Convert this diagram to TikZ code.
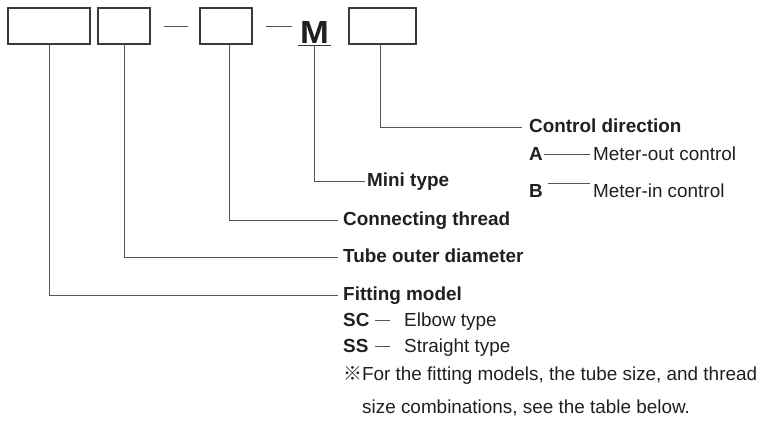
\documentclass[tikz,border=0pt]{standalone}
\usepackage{fontspec}
\setmainfont{Liberation Sans}
\newfontfamily\cjk{Noto Sans CJK JP}
\definecolor{txt}{HTML}{231F20}
\definecolor{boxc}{HTML}{3A3A3A}
\definecolor{linec}{HTML}{555555}
\begin{document}
\begin{tikzpicture}[x=1pt,y=-1pt,
  fieldbox/.style={draw=boxc,line width=1.1pt,minimum height=36pt,inner sep=0pt},
  conn/.style={draw=linec,line width=0.9pt},
  lab/.style={inner sep=0pt,anchor=west,text=txt,font=\fontsize{18.9}{20}\selectfont\bfseries,text height=11pt,text depth=0pt},
  plain/.style={inner sep=0pt,anchor=west,text=txt,font=\fontsize{18.9}{20}\selectfont,text height=11pt,text depth=0pt},
  note/.style={inner sep=0pt,anchor=base west,text=txt,font=\fontsize{18.9}{20}\selectfont}
]
\useasboundingbox (0,0) rectangle (758,421);
% code boxes
\node[fieldbox,minimum width=82pt] (b1) at (49,26) {};
\node[fieldbox,minimum width=52pt] (b2) at (124,26) {};
\node[fieldbox,minimum width=52pt] (b3) at (226,26) {};
\node[fieldbox,minimum width=67pt] (b4) at (382.5,26) {};
\node[inner xsep=1.5pt,inner ysep=2pt,anchor=base,text=txt,text depth=0pt,
      font=\fontsize{32}{32}\selectfont\bfseries] (m) at (314.5,43) {\scalebox{1.08}[1]{M}};
\draw[boxc,line width=1.1pt] (m.south west) -- (m.south east);
% separators
\draw[conn] ([xshift=13pt]b2.east) -- ([xshift=-11pt]b3.west);
\draw[conn] ([xshift=13pt]b3.east) -- ++(26pt,0);
% labels
\node[lab] (ctrl) at (529,127) {Control direction};
\node[lab] (mini) at (367,181) {Mini type};
\node[lab] (thr)  at (343,220) {Connecting thread};
\node[lab] (tube) at (343,257) {Tube outer diameter};
\node[lab] (fit)  at (343,295) {Fitting model};
% control direction options
\node[lab] (A) at (529,154.5) {A};
\node[plain] (mo) at (593,154.5) {Meter-out control};
\node[lab] (B) at (529,191.5) {B};
\node[plain] (mi) at (593,191.5) {Meter-in control};
\draw[conn] ([xshift=1pt]A.east) -- ([xshift=-3pt]mo.west);
\draw[conn] ([shift={(5pt,8.5pt)}]B.east) -- ([shift={(-3pt,8.5pt)}]mi.west);
% fitting model options
\node[lab] (sc) at (343,320.5) {SC};
\node[plain] (el) at (404,320.5) {Elbow type};
\node[lab] (ss) at (343,346.5) {SS};
\node[plain] (st) at (404,346.5) {Straight type};
\draw[conn] ([xshift=-29pt,yshift=0.5pt]el.west) -- ([xshift=-14pt,yshift=0.5pt]el.west);
\draw[conn] ([xshift=-29pt,yshift=0.5pt]st.west) -- ([xshift=-14pt,yshift=0.5pt]st.west);
% notes
\node[note] (n1) at (343,380) {{\cjk ※}For the fitting models, the tube size, and thread};
\node[note] (n2) at (362,413) {size combinations, see the table below.};
% leaders
\draw[conn] (b4.south -| 380,0) |- ([xshift=-7pt]ctrl.west);
\draw[conn] (m.south) |- ([xshift=-2pt]mini.west);
\draw[conn] ([xshift=3pt]b3.south) |- ([xshift=-5pt]thr.west);
\draw[conn] (b2.south) |- ([xshift=-5pt]tube.west);
\draw[conn] (b1.south) |- ([xshift=-5pt]fit.west);
\end{tikzpicture}
\end{document}
